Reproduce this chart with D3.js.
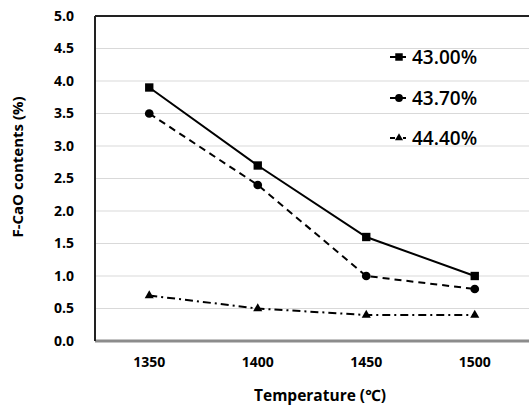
<!DOCTYPE html>
<html>
<head>
<meta charset="utf-8">
<script src="https://cdn.jsdelivr.net/npm/d3@7"></script>
<style>
  body { margin: 0; background: #fff; }
  text { font-family: "Open Sans", "Noto Sans", sans-serif; fill: #000; }
</style>
</head>
<body>
<div id="chart"></div>
<script>
var temps = ["1350", "1400", "1450", "1500"];
var yTicks = [0, 0.5, 1, 1.5, 2, 2.5, 3, 3.5, 4, 4.5, 5];
var seriesNames = ["43.00%", "43.70%", "44.40%"];
var s4300 = [3.9, 2.7, 1.6, 1.0];
var s4370 = [3.5, 2.4, 1.0, 0.8];
var s4440 = [0.7, 0.5, 0.4, 0.4];

var svgWidth = 529;
var svgHeight = 407;
var margin = { top: 16, right: 0, bottom: 66, left: 95 };
var width = svgWidth - margin.left - margin.right;
var height = svgHeight - margin.top - margin.bottom;

var svg = d3.select("#chart").append("svg")
  .attr("width", svgWidth)
  .attr("height", svgHeight);

var g = svg.append("g")
  .attr("transform", `translate(${margin.left}, ${margin.top})`);

var x = d3.scaleBand().domain(temps).range([0, width]);
var y = d3.scaleLinear().domain([0, 5]).range([height, 0]);

// gridlines
g.selectAll(".grid").data(yTicks.slice(1)).enter().append("line")
  .attr("x1", 0).attr("x2", width)
  .attr("y1", d => y(d)).attr("y2", d => y(d))
  .attr("stroke", d => d === 5 ? "#222" : "#d9d9d9")
  .attr("stroke-width", d => d === 5 ? 2 : 1);

// y axis labels
var leftAxis = d3.axisLeft(y).tickValues(yTicks).tickSize(0).tickPadding(21)
  .tickFormat(d3.format(".1f"));
var yAx = g.append("g").call(leftAxis);
yAx.select(".domain").remove();
yAx.selectAll("text").style("font-size", "14px").style("font-weight", "bold");

var bottomAxis = d3.axisBottom(x).tickSize(0).tickPadding(16);
var xAx = g.append("g").attr("transform", `translate(0, ${height})`).call(bottomAxis);
xAx.select(".domain").remove();
xAx.selectAll("text").style("font-size", "14px").style("font-weight", "bold");

// axes lines
g.append("line").attr("x1", 0).attr("x2", width).attr("y1", height).attr("y2", height)
  .attr("stroke", "#8c8c8c").attr("stroke-width", 3);
g.append("line").attr("x1", 0).attr("x2", 0).attr("y1", 0).attr("y2", height)
  .attr("stroke", "#222").attr("stroke-width", 2);

var series = [
  { name: seriesNames[0], values: s4300, dash: null, shape: d3.symbolSquare, size: 70 },
  { name: seriesNames[1], values: s4370, dash: "7,5", shape: d3.symbolCircle, size: 60 },
  { name: seriesNames[2], values: s4440, dash: "8,4,2,4", shape: d3.symbolTriangle, size: 36 }
];

var line = d3.line()
  .x((d, i) => x(temps[i]) + x.bandwidth() / 2)
  .y(d => y(d));

series.forEach(function(s) {
  g.append("path").datum(s.values)
    .attr("d", line)
    .attr("fill", "none")
    .attr("stroke", "#000")
    .attr("stroke-width", 2)
    .attr("stroke-dasharray", s.dash);
  g.selectAll(null).data(s.values).enter().append("path")
    .attr("d", d3.symbol().type(s.shape).size(s.size))
    .attr("transform", (d, i) => `translate(${x(temps[i]) + x.bandwidth() / 2}, ${y(d)})`)
    .attr("fill", "#000");
});

// legend
var legendY = [57, 98, 138];
series.forEach(function(s, i) {
  var lg = svg.append("g").attr("transform", `translate(390, ${legendY[i]})`);
  lg.append("line").attr("x1", 0).attr("x2", 16).attr("y1", 0).attr("y2", 0)
    .attr("stroke", "#000").attr("stroke-width", 2)
    .attr("stroke-dasharray", i === 2 ? "5,3,2,3" : null);
  lg.append("path")
    .attr("d", d3.symbol().type(s.shape).size(s.size * 0.8))
    .attr("transform", "translate(9,0)").attr("fill", "#000");
  lg.append("text").attr("x", 22).attr("y", 0).attr("dy", "0.36em")
    .style("font-size", "19px").style("font-weight", "600")
    .text(s.name);
});

// axis titles
svg.append("text")
  .attr("x", 320).attr("y", 401)
  .attr("text-anchor", "middle")
  .style("font-size", "15.5px").style("font-weight", "bold")
  .text("Temperature (℃)");

svg.append("text")
  .attr("transform", `translate(23, 167) rotate(-90)`)
  .attr("text-anchor", "middle")
  .style("font-size", "15px").style("font-weight", "bold")
  .text("F-CaO contents (%)");
</script>
</body>
</html>
